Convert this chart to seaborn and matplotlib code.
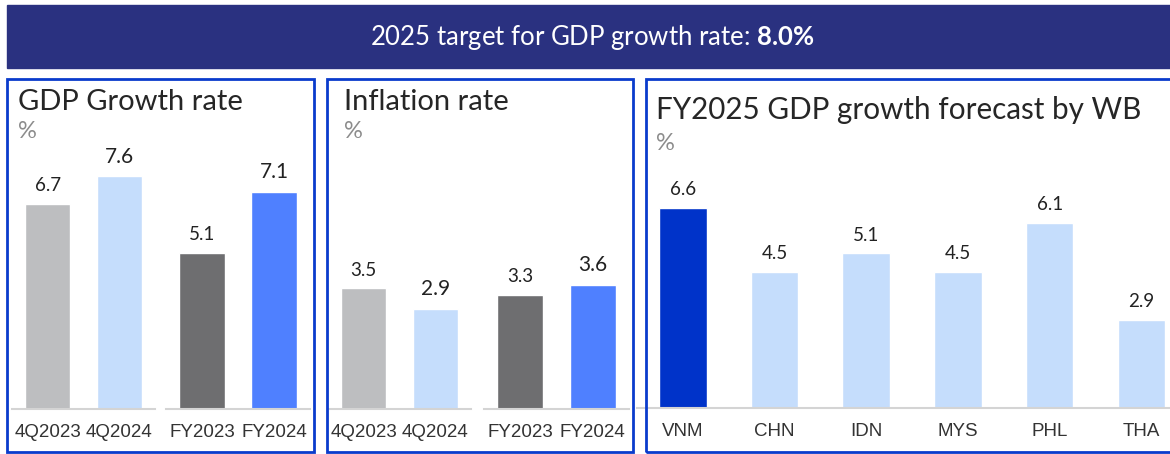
import matplotlib
matplotlib.use('Agg')
import matplotlib.pyplot as plt
import seaborn as sns
from matplotlib.patches import Rectangle

# Data
gdp_q_labels = ['4Q2023', '4Q2024']
gdp_q = [6.7, 7.6]
gdp_fy_labels = ['FY2023', 'FY2024']
gdp_fy = [5.1, 7.1]

infl_q_labels = ['4Q2023', '4Q2024']
infl_q = [3.5, 2.9]
infl_fy_labels = ['FY2023', 'FY2024']
infl_fy = [3.3, 3.6]

wb_countries = ['VNM', 'CHN', 'IDN', 'MYS', 'PHL', 'THA']
wb_forecast = [6.6, 4.5, 5.1, 4.5, 6.1, 2.9]

header_text = '2025 target for GDP growth rate: '
header_value = '8.0%'

sns.set_style('white')
plt.rcParams['font.family'] = ['Lato', 'DejaVu Sans']
plt.rcParams['mathtext.fontset'] = 'custom'
plt.rcParams['mathtext.bf'] = 'Lato:bold'

W, H = 1170, 454
fig = plt.figure(figsize=(W / 100, H / 100), dpi=100)

c_light_gray = '#bdbec0'
c_light_blue = '#c5ddfc'
c_dark_gray = '#6e6e70'
c_blue = '#4f80ff'
c_vnm = '#0033c9'
c_border = '#0a3bcc'
c_base = '#d4d4d4'


def px_axes(x0, x1, ytop, ybot):
    # add axes using pixel coordinates (top-left origin)
    return fig.add_axes([x0 / W, 1 - ybot / H, (x1 - x0) / W, (ybot - ytop) / H])


def frame(x0, y0, x1, y1):
    fig.patches.append(Rectangle((x0 / W, 1 - y1 / H), (x1 - x0) / W, (y1 - y0) / H,
                                 transform=fig.transFigure, fill=False,
                                 edgecolor=c_border, linewidth=2, zorder=5))


def bars(ax, labels, values, colors, ymax, width, bold_idx=()):
    sns.barplot(x=labels, y=values, hue=labels, palette=colors, width=width,
                ax=ax, legend=False, saturation=1)
    ax.set_ylim(0, ymax)
    ax.set_xlim(-0.5, len(labels) - 0.5)
    ax.set_yticks([])
    for s in ['top', 'right', 'left']:
        ax.spines[s].set_visible(False)
    ax.spines['bottom'].set_color(c_base)
    ax.spines['bottom'].set_linewidth(1.5)
    ax.tick_params(axis='x', length=0, pad=11, labelsize=13.5, labelcolor='#333333')
    for lab in ax.get_xticklabels():
        lab.set_fontfamily(['Liberation Sans', 'DejaVu Sans'])
    for i, cont in enumerate(ax.containers):
        big = i in bold_idx
        ax.bar_label(cont, labels=[f'{values[i]:.1f}'], padding=7,
                     fontsize=15 if big else 13.5, color='#222222')


# Header banner
fig.patches.append(Rectangle((7 / W, 1 - 68 / H), 1170 / W, 63 / H,
                             transform=fig.transFigure, color='#2a3180', zorder=1))
fig.text(592 / W, 1 - 37 / H, header_text + r'$\bf{' + header_value.replace('%', r'\%') + '}$',
         color='white', fontsize=18.5, ha='center', va='center')

# Panel frames
frame(7, 79, 314, 452)
frame(327, 79, 633, 452)
frame(646, 79, 1175, 452)

# Panel 1: GDP growth rate
ax = px_axes(12, 155, 160, 409)
bars(ax, gdp_q_labels, gdp_q, [c_light_gray, c_light_blue], 249 / 30.6, 0.63, bold_idx=(1,))
ax = px_axes(166, 310, 160, 409)
bars(ax, gdp_fy_labels, gdp_fy, [c_dark_gray, c_blue], 249 / 30.6, 0.63, bold_idx=(1,))
fig.text(18 / W, 1 - 102 / H, 'GDP Growth rate', fontsize=21, color='#262626', va='center')
fig.text(18 / W, 1 - 132 / H, '%', fontsize=17, color='#8c8c8c', va='center')

# Panel 2: Inflation rate
ax = px_axes(328, 471, 160, 409)
bars(ax, infl_q_labels, infl_q, [c_light_gray, c_light_blue], 249 / 34.5, 0.63, bold_idx=(1,))
ax = px_axes(484, 629, 160, 409)
bars(ax, infl_fy_labels, infl_fy, [c_dark_gray, c_blue], 249 / 34.5, 0.63, bold_idx=(1,))
fig.text(344 / W, 1 - 102 / H, 'Inflation rate', fontsize=21, color='#262626', va='center')
fig.text(344 / W, 1 - 132 / H, '%', fontsize=17, color='#8c8c8c', va='center')

# Panel 3: WB forecast
ax = px_axes(637, 637 + 6 * 91.7, 160, 408)
bars(ax, wb_countries, wb_forecast, [c_vnm] + [c_light_blue] * 5, 248 / 30.3, 0.52)
ax.set_xticks([i - 0.5 for i in range(len(wb_countries))], minor=True)
ax.tick_params(axis='x', which='minor', length=5, width=1, color=c_base, direction='out')
fig.text(656 / W, 1 - 110 / H, 'FY2025 GDP growth forecast by WB', fontsize=21.3,
         color='#262626', va='center')
fig.text(656 / W, 1 - 143 / H, '%', fontsize=17, color='#8c8c8c', va='center')

fig.savefig('out.png', dpi=100)
